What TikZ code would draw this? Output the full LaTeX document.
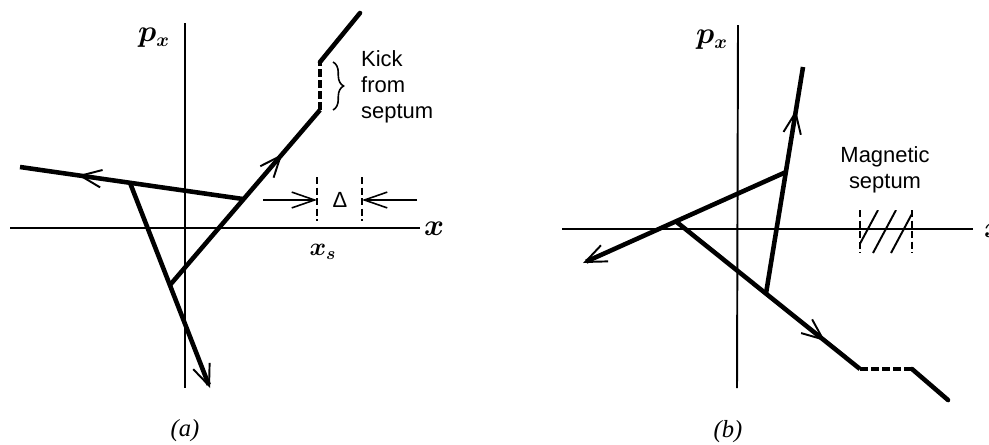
\documentclass[tikz,border=0pt]{standalone}
\usepackage{fontspec}
\setmainfont{Liberation Serif}
\newfontfamily\lsans{Liberation Sans}
\usetikzlibrary{arrows.meta,decorations.markings,decorations.pathreplacing}
\tikzset{
  mybarb/.tip={Straight Barb[length=12pt,width=10pt,line width=1.1pt]},
  dimbarb/.tip={Straight Barb[length=13pt,width=9pt,line width=0.9pt]},
  axis/.style={line width=1.1pt},
  traj/.style={line width=2.6pt},
  thindash/.style={line width=0.9pt,dash pattern=on 4pt off 2pt},
  thickdash/.style={line width=2.6pt,dash pattern=on 4.5pt off 1.8pt},
  midarr/.style={postaction={decorate,decoration={markings,mark=at position #1 with {\arrow{mybarb}}}}},
  lab/.style={font=\lsans\fontsize{12.5}{14.7}\selectfont},
  mlab/.style={font=\fontsize{16}{18}\selectfont\boldmath},
  slab/.style={font=\fontsize{14}{16}\selectfont\boldmath},
  caplab/.style={font=\fontsize{14}{16}\selectfont\itshape},
}
\begin{document}
\begin{tikzpicture}[x=0.02cm,y=-0.02cm]
\useasboundingbox (0,0) rectangle (989,444);

% ---------- panel (a) ----------
\coordinate (aXl) at (10,228);
\coordinate (aXr) at (420,228);
\coordinate (aYt) at (185,23);
\coordinate (aYb) at (185,388);
\draw[axis] (aXl) -- (aXr);
\draw[axis] (aYt) -- (aYb);
\node[mlab] (apx) at (154,38) {$p_x$};
\node[mlab] (ax) at (434,229) {$x$};
\node[slab] (axs) at (323,252) {$x_s$};

\coordinate (A1) at (20,167);
\coordinate (A2) at (130,182.8);
\coordinate (A3) at (243,199);
\coordinate (A4) at (170,285);
\coordinate (A5) at (210,388);
\coordinate (A6) at (320,110);
\coordinate (A7) at (320,62);
\coordinate (A8) at (360,13);

\draw[traj,midarr=0.74] (A3) -- (A1);
\draw[traj,-{mybarb}] (A2) -- (A5);
\draw[traj,midarr=0.75,line join=round] (A4) -- (A6);
\draw[thickdash] (A6) -- (A7);
\draw[traj,line cap=round] (A7) -- (A8);

\coordinate (Bt) at (333,62);
\coordinate (Bb) at (333,110);
\draw[line width=0.9pt,decorate,decoration={brace,amplitude=6pt}] (Bt) -- (Bb);
\node[lab,align=left,anchor=west] (kick) at (355,87) {Kick\\from\\septum};

\coordinate (D1) at (263,200);
\coordinate (D2) at (317,200);
\coordinate (D3) at (417,200);
\coordinate (D4) at (362,200);
\coordinate (V1t) at (317,177);
\coordinate (V1b) at (317,221);
\coordinate (V2t) at (362,177);
\coordinate (V2b) at (362,221);
\draw[line width=0.9pt,-{dimbarb}] (D1) -- (D2);
\draw[line width=0.9pt,-{dimbarb}] (D3) -- (D4);
\draw[thindash] (V1t) -- (V1b);
\draw[thindash] (V2t) -- (V2b);
\node[lab] (delta) at (340,200) {Δ};

\node[caplab] (capa) at (185,431) {(a)};

% ---------- panel (b) ----------
\coordinate (bXl) at (562,229);
\coordinate (bXr) at (973,229);
\coordinate (bYt) at (738,25);
\coordinate (bYb) at (737,388);
\draw[axis] (bXl) -- (bXr);
\draw[axis] (bYt) -- (bYb);
\node[mlab] (bpx) at (712,40) {$p_x$};
\node[mlab] (bx) at (994,231) {$x$};

\coordinate (B1) at (786,172);
\coordinate (B2) at (583,263);
\coordinate (B3) at (676,221.5);
\coordinate (B4) at (766,293.5);
\coordinate (B5) at (860,369);
\coordinate (B6) at (912,369);
\coordinate (B7) at (948,400);
\coordinate (B8) at (803,67);

\draw[traj,-{mybarb}] (B1) -- (B2);
\draw[traj,midarr=0.81] (B3) -- (B5);
\draw[traj,midarr=0.81] (B4) -- (B8);
\draw[thickdash] (B5) -- (B6);
\draw[traj,line cap=round] (B6) -- (B7);

\coordinate (S1) at (860,210);
\coordinate (S2) at (912,253);
\coordinate (S1b) at (860,253);
\coordinate (S2t) at (912,210);
\draw[thindash] (S1) -- (S1b);
\draw[thindash] (S2t) -- (S2);
\begin{scope}
\clip (S1) rectangle (S2);
\foreach \k in {855,873,891} {
  \draw[line width=1.1pt] (\k,253) -- ++(23,-43);
}
\end{scope}
\node[lab,align=center] (mag) at (885,170) {Magnetic\\septum};

\node[caplab] (capb) at (728,432) {(b)};
\end{tikzpicture}
\end{document}
